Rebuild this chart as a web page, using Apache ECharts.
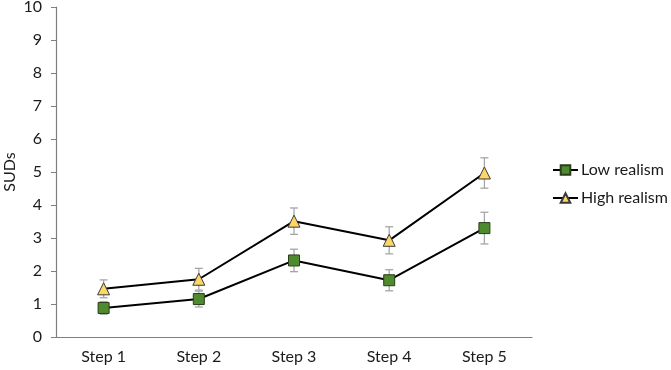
<!DOCTYPE html>
<html>
<head>
<meta charset="utf-8">
<script src="https://cdn.jsdelivr.net/npm/echarts@6/dist/echarts.min.js"></script>
<style>
  html, body { margin: 0; padding: 0; background: #fff; }
  #chart { width: 671px; height: 370px; }
</style>
</head>
<body>
<div id="chart"></div>
<script>
// 数据
var steps = ['Step 1', 'Step 2', 'Step 3', 'Step 4', 'Step 5']
var lowMean = [0.88, 1.15, 2.32, 1.72, 3.30]
var lowErr = [0.19, 0.24, 0.34, 0.32, 0.48]
var highMean = [1.46, 1.75, 3.51, 2.93, 4.97]
var highErr = [0.27, 0.33, 0.40, 0.41, 0.46]
var yTicks = [0, 1, 2, 3, 4, 5, 6, 7, 8, 9, 10]

var font = 'Lato'

function errData (mean, err) {
  return mean.map(function (m, i) {
    return [i, m - err[i], m + err[i]]
  })
}

// 误差线
function renderErr (params, api) {
  var lo = api.coord([api.value(0), api.value(1)])
  var hi = api.coord([api.value(0), api.value(2)])
  var half = 4
  var style = { stroke: '#a6a6a6', lineWidth: 1.3 }
  return {
    type: 'group',
    children: [
      { type: 'line', shape: { x1: hi[0], y1: hi[1], x2: lo[0], y2: lo[1] }, style: style },
      { type: 'line', shape: { x1: hi[0] - half, y1: hi[1], x2: hi[0] + half, y2: hi[1] }, style: style },
      { type: 'line', shape: { x1: lo[0] - half, y1: lo[1], x2: lo[0] + half, y2: lo[1] }, style: style }
    ]
  }
}

var myChart = echarts.init(document.getElementById('chart'))
var option = {
  animation: false,
  grid: { left: 56, right: 139, top: 7, bottom: 33, containLabel: false, outerBoundsMode: 'none' },
  legend: {
    orient: 'vertical',
    left: 547,
    top: 157,
    itemGap: 12,
    itemWidth: 25,
    itemHeight: 12,
    textStyle: { fontFamily: font, fontSize: 16, color: '#1a1a1a', padding: [0, 0, 0, -2] },
    data: ['Low realism', 'High realism']
  },
  xAxis: {
    type: 'category',
    data: steps,
    axisLine: { lineStyle: { color: '#7f7f7f', width: 1.2 } },
    axisTick: { length: 5, lineStyle: { color: '#7f7f7f' } },
    axisLabel: { fontFamily: font, fontSize: 16, color: '#1a1a1a', margin: 12 }
  },
  yAxis: {
    type: 'value',
    min: yTicks[0],
    max: yTicks[yTicks.length - 1],
    interval: 1,
    name: 'SUDs',
    nameLocation: 'middle',
    nameGap: 38,
    nameMoveOverlap: false,
    nameTextStyle: { fontFamily: font, fontSize: 16, color: '#1a1a1a' },
    splitLine: { show: false },
    axisLine: { show: true, lineStyle: { color: '#7f7f7f', width: 1.2 } },
    axisTick: { show: true, length: 5, lineStyle: { color: '#7f7f7f' } },
    axisLabel: { fontFamily: font, fontSize: 16, color: '#1a1a1a', margin: 14 }
  },
  series: [
    {
      type: 'custom',
      renderItem: renderErr,
      data: errData(lowMean, lowErr),
      z: 1
    },
    {
      type: 'custom',
      renderItem: renderErr,
      data: errData(highMean, highErr),
      z: 1
    },
    {
      name: 'Low realism',
      type: 'line',
      data: lowMean,
      symbol: 'rect',
      symbolSize: 11,
      z: 3,
      lineStyle: { color: '#000', width: 2 },
      itemStyle: { color: '#4e8a2e', borderColor: '#2b3d1c', borderWidth: 1 }
    },
    {
      name: 'High realism',
      type: 'line',
      data: highMean,
      symbol: 'triangle',
      symbolSize: 12,
      z: 3,
      lineStyle: { color: '#000', width: 2 },
      itemStyle: { color: '#fcd667', borderColor: '#3a3a3a', borderWidth: 1 }
    }
  ]
}
myChart.setOption(option)
</script>
</body>
</html>
